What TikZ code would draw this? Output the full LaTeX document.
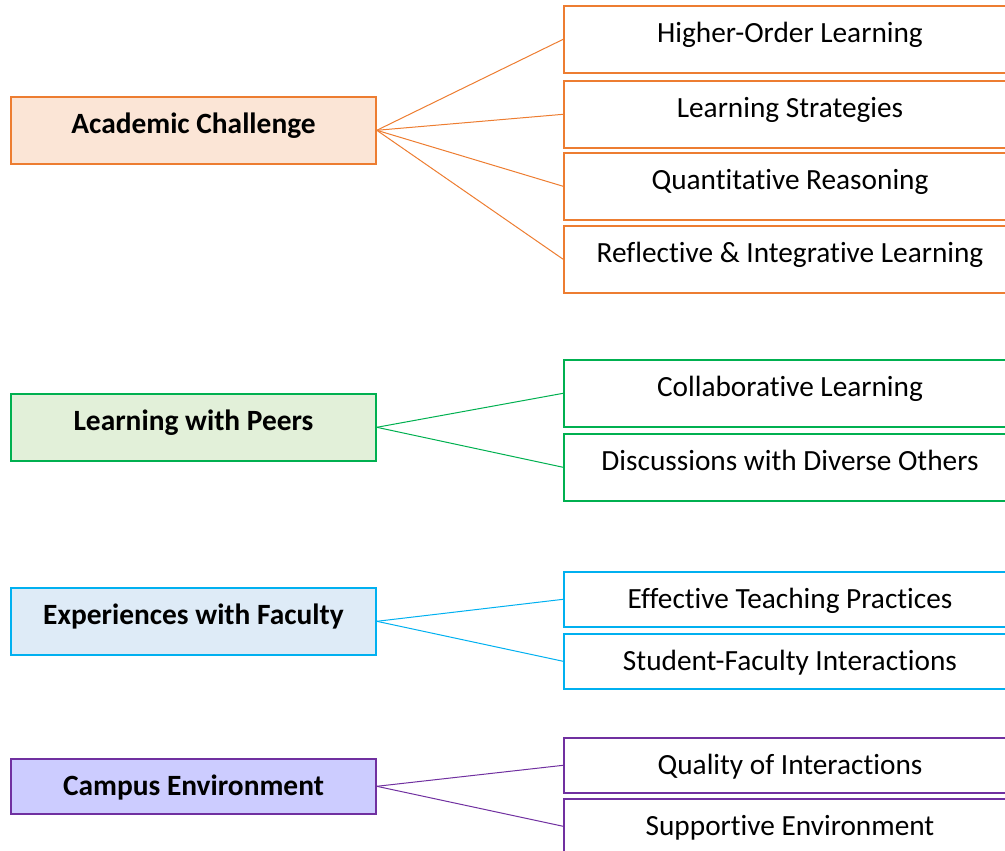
\documentclass[tikz,border=0pt]{standalone}
\usepackage{fontspec}
\setmainfont{Carlito}[Ligatures=NoCommon]
\definecolor{orB}{HTML}{ED7D31}\definecolor{orF}{HTML}{FBE5D6}
\definecolor{grB}{HTML}{00B050}\definecolor{grF}{HTML}{E2F0D9}
\definecolor{blB}{HTML}{00B0F0}\definecolor{blF}{HTML}{DEEBF7}
\definecolor{puB}{HTML}{7030A0}\definecolor{puF}{HTML}{CCCCFF}
\tikzset{
  basebox/.style={rectangle, anchor=north, inner xsep=0pt, inner ysep=0pt,
    line width=1.6pt, font=\fontsize{29.3}{31}\selectfont, text height=37pt},
  cat/.style={basebox, minimum width=365pt, font=\bfseries\fontsize{29.4}{31}\selectfont},
  sub/.style={basebox, minimum width=452pt, fill=white},
  conn/.style={line width=1pt},
}
\begin{document}
\begin{tikzpicture}[x=1pt,y=-1pt]
\useasboundingbox (0,0) rectangle (1005,851);
\clip (0,0) rectangle (1005,851);
% Academic Challenge
\node[cat, draw=orB, fill=orF, text depth=30pt] (ac) at (193.5,96) {Academic Challenge};
\node[sub, draw=orB, text depth=30pt] (ac1) at (790,5) {Higher-Order Learning};
\node[sub, draw=orB, text depth=30pt] (ac2) at (790,80) {Learning Strategies};
\node[sub, draw=orB, text depth=30pt] (ac3) at (790,152) {Quantitative Reasoning};
\node[sub, draw=orB, text depth=30pt] (ac4) at (790,225) {Reflective \& Integrative Learning};
\foreach \t in {ac1,ac2,ac3,ac4} \draw[conn, orB] (ac.east) -- (\t.west);
% Learning with Peers
\node[cat, draw=grB, fill=grF, text depth=30pt] (lp) at (193.5,393) {Learning with Peers};
\node[sub, draw=grB, text depth=30pt] (lp1) at (790,359) {Collaborative Learning};
\node[sub, draw=grB, text depth=30pt] (lp2) at (790,433) {Discussions with Diverse Others};
\foreach \t in {lp1,lp2} \draw[conn, grB] (lp.east) -- (\t.west);
% Experiences with Faculty
\node[cat, draw=blB, fill=blF, text depth=30pt] (ef) at (193.5,587) {Experiences with Faculty};
\node[sub, draw=blB, text depth=18pt] (ef1) at (790,571) {Effective Teaching Practices};
\node[sub, draw=blB, text depth=18pt] (ef2) at (790,633) {Student-Faculty Interactions};
\foreach \t in {ef1,ef2} \draw[conn, blB] (ef.east) -- (\t.west);
% Campus Environment
\node[cat, draw=puB, fill=puF, text depth=18pt] (ce) at (193.5,758) {Campus Environment};
\node[sub, draw=puB, text depth=18pt] (ce1) at (790,737) {Quality of Interactions};
\node[sub, draw=puB, text depth=18pt] (ce2) at (790,798) {Supportive Environment};
\foreach \t in {ce1,ce2} \draw[conn, puB] (ce.east) -- (\t.west);
\end{tikzpicture}
\end{document}
